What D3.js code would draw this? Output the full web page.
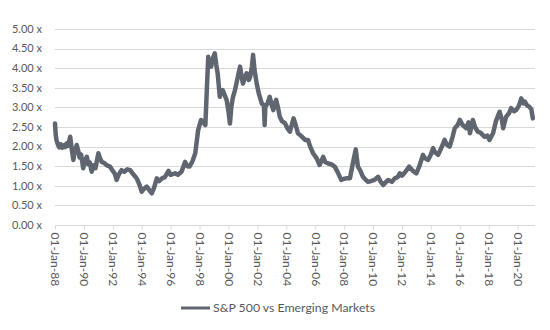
<!DOCTYPE html>
<html>
<head>
<meta charset="utf-8">
<script src="https://cdn.jsdelivr.net/npm/d3@7"></script>
<style>
  html, body { margin: 0; padding: 0; background: #ffffff; }
  svg { display: block; }
  text { font-family: Lato, "Liberation Sans", sans-serif; fill: #595959; }
</style>
</head>
<body>
<script>
// ---- data (decimal year, ratio) ----
const years = [
  1988.00,1988.05,1988.10,1988.20,1988.30,1988.40,1988.50,1988.60,1988.70,1988.80,1988.90,
  1989.05,1989.15,1989.27,1989.35,1989.50,1989.60,1989.70,1989.80,1989.95,
  1990.05,1990.20,1990.30,1990.40,1990.54,1990.65,1990.80,
  1991.00,1991.10,1991.23,1991.40,1991.60,1991.80,
  1992.00,1992.15,1992.26,1992.40,1992.60,1992.80,
  1993.00,1993.20,1993.40,1993.65,1993.85,
  1994.00,1994.15,1994.35,1994.50,1994.70,1994.85,
  1995.04,1995.20,1995.40,1995.60,1995.85,
  1996.00,1996.30,1996.50,1996.75,
  1997.00,1997.15,1997.30,1997.50,1997.70,1997.90,
  1998.10,1998.30,1998.40,1998.50,1998.60,1998.70,1998.80,1998.92,
  1999.05,1999.15,1999.25,1999.40,1999.50,1999.60,1999.75,1999.87,
  2000.00,2000.10,2000.20,2000.30,2000.45,2000.60,2000.80,2000.90,
  2001.00,2001.12,2001.25,2001.40,2001.50,2001.62,2001.70,2001.80,2001.95,
  2002.10,2002.30,2002.45,2002.50,2002.55,2002.70,2002.85,
  2003.00,2003.10,2003.20,2003.30,2003.45,2003.55,2003.70,2003.90,
  2004.10,2004.25,2004.50,2004.65,2004.80,
  2005.00,2005.30,2005.50,2005.65,2005.85,
  2006.10,2006.30,2006.55,2006.70,2006.90,
  2007.10,2007.35,2007.55,2007.80,
  2008.00,2008.15,2008.40,2008.60,2008.80,2008.95,
  2009.10,2009.30,2009.50,2009.65,2009.85,
  2010.10,2010.35,2010.50,2010.70,2010.90,
  2011.05,2011.30,2011.50,2011.70,2011.85,
  2012.00,2012.20,2012.50,2012.75,
  2013.00,2013.20,2013.45,2013.60,2013.80,
  2014.00,2014.15,2014.30,2014.50,2014.70,2014.95,
  2015.10,2015.30,2015.50,2015.65,2015.85,
  2016.00,2016.20,2016.45,2016.60,2016.70,2016.90,
  2017.05,2017.25,2017.45,2017.70,2017.90,
  2018.05,2018.30,2018.50,2018.75,2018.90,
  2019.00,2019.20,2019.40,2019.55,2019.75,2019.90,
  2020.10,2020.25,2020.40,2020.50,2020.65,2020.80,2020.95,2021.05
];
const ratios = [
  2.59,2.30,2.17,2.05,1.98,2.06,1.97,2.03,1.99,2.08,2.02,
  2.25,1.95,1.66,1.85,2.04,1.90,1.72,1.80,1.45,
  1.62,1.74,1.55,1.60,1.36,1.52,1.45,
  1.83,1.72,1.61,1.58,1.52,1.49,
  1.38,1.30,1.15,1.28,1.40,1.36,
  1.42,1.40,1.30,1.19,1.02,
  0.85,0.92,0.98,0.90,0.81,0.95,
  1.19,1.12,1.19,1.22,1.38,
  1.28,1.32,1.28,1.36,
  1.61,1.50,1.49,1.62,1.83,2.42,
  2.68,2.60,2.55,3.44,4.29,4.10,4.04,4.25,
  4.38,4.10,3.87,3.27,3.40,3.44,3.30,3.19,
  2.90,2.59,3.02,3.25,3.44,3.70,4.04,3.80,
  3.61,3.75,3.87,3.70,3.78,4.05,4.34,3.95,3.61,
  3.35,3.10,3.05,2.55,3.02,3.10,3.27,
  3.05,2.93,3.10,3.19,2.95,2.76,2.65,2.60,
  2.45,2.38,2.72,2.55,2.34,
  2.28,2.17,2.17,2.00,1.83,
  1.70,1.53,1.74,1.60,1.57,
  1.55,1.49,1.35,1.15,
  1.18,1.19,1.19,1.57,1.93,1.49,
  1.40,1.23,1.15,1.10,1.12,
  1.15,1.23,1.12,1.02,1.10,
  1.15,1.10,1.19,1.22,1.32,
  1.26,1.34,1.49,1.38,
  1.32,1.50,1.79,1.70,1.66,
  1.80,1.96,1.85,1.79,1.95,2.17,
  2.05,2.00,2.25,2.47,2.55,
  2.68,2.55,2.47,2.62,2.34,2.68,
  2.50,2.38,2.35,2.25,2.28,
  2.17,2.34,2.65,2.89,2.70,
  2.47,2.76,2.85,2.98,2.90,2.93,
  3.05,3.23,3.10,3.15,3.05,3.02,2.95,2.72
];
const yTicks = [0, 0.5, 1, 1.5, 2, 2.5, 3, 3.5, 4, 4.5, 5];
const xTickYears = [1988,1990,1992,1994,1996,1998,2000,2002,2004,2006,2008,2010,2012,2014,2016,2018,2020];
const seriesName = "S&P 500 vs Emerging Markets";

// ---- helpers ----
function yearToDate(v) {
  const yr = Math.floor(v);
  const start = new Date(yr, 0, 1), end = new Date(yr + 1, 0, 1);
  return new Date(start.getTime() + (v - yr) * (end - start));
}
const data = years.map((v, i) => ({ date: yearToDate(v), value: ratios[i] }));

const W = 550, H = 330;
const plotL = 55, plotR = 535, plotT = 29, plotB = 225;

const svg = d3.select("body").append("svg").attr("width", W).attr("height", H);

const x = d3.scaleTime().domain([new Date(1988, 0, 1), yearToDate(2021.2)]).range([plotL, plotR]);
const y = d3.scaleLinear().domain([0, 5]).range([plotB, plotT]);

// gridlines
svg.append("g").selectAll("line").data(yTicks.filter(d => d > 0)).join("line")
  .attr("x1", plotL).attr("x2", plotR)
  .attr("y1", d => Math.round(y(d)) + 0.5).attr("y2", d => Math.round(y(d)) + 0.5)
  .attr("stroke", "#d9d9d9").attr("stroke-width", 1);

// y axis labels
const fmt = d3.format(".2f");
svg.append("g").selectAll("text").data(yTicks).join("text")
  .attr("x", 42).attr("y", d => y(d)).attr("dy", "0.35em")
  .attr("text-anchor", "end").attr("font-size", 11)
  .text(d => fmt(d) + " x");

// x axis
const xAxis = d3.axisBottom(x)
  .tickValues(xTickYears.map(v => new Date(v, 0, 1)))
  .tickSizeInner(4).tickSizeOuter(0)
  .tickFormat(d3.timeFormat("%d-%b-%y"));
const gx = svg.append("g").attr("transform", `translate(0,${Math.round(plotB) + 0.5})`).call(xAxis);
gx.select(".domain").attr("stroke", "#d9d9d9").attr("d", `M${plotL},0H${plotR}`);
gx.selectAll(".tick line").attr("stroke", "#d9d9d9");
gx.selectAll(".tick text")
  .attr("font-family", "Lato, 'Liberation Sans', sans-serif")
  .attr("font-size", 12).attr("fill", "#595959")
  .attr("transform", "rotate(90)")
  .attr("x", 7).attr("y", 0).attr("dy", "0.35em")
  .attr("text-anchor", "start");

// line
const line = d3.line().x(d => x(d.date)).y(d => y(d.value));
svg.append("path").datum(data)
  .attr("fill", "none").attr("stroke", "#5f6670")
  .attr("stroke-width", 4.5).attr("stroke-linejoin", "round").attr("stroke-linecap", "round")
  .attr("d", line);

// legend
const lg = svg.append("g");
lg.append("line").attr("x1", 181).attr("x2", 210).attr("y1", 308).attr("y2", 308)
  .attr("stroke", "#5f6670").attr("stroke-width", 3);
lg.append("text").attr("x", 213).attr("y", 308).attr("dy", "0.35em")
  .attr("font-size", 12.3).text(seriesName);
</script>
</body>
</html>
